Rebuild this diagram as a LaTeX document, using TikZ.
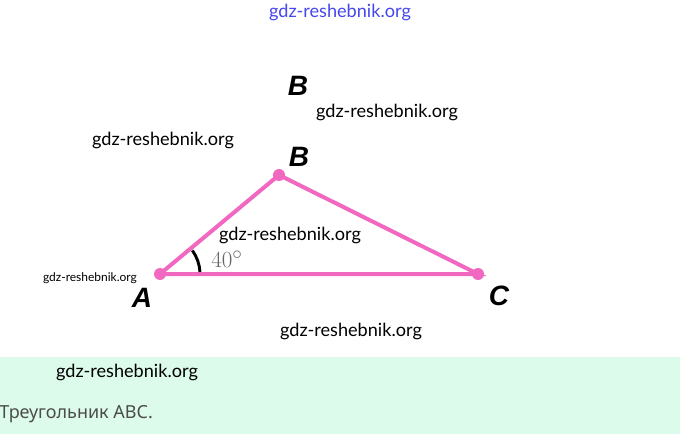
\documentclass[tikz,border=0pt]{standalone}
\usepackage{fontspec}
\newfontfamily\wmfont{Lato}
\newfontfamily\ptfont{Liberation Sans}
\newfontfamily\capfont{Noto Sans}
\usepackage{tikz}
\definecolor{trpink}{RGB}{240,104,192}
\definecolor{bandgreen}{RGB}{221,251,234}
\definecolor{wmblue}{RGB}{70,70,235}
\tikzset{
  wmark/.style={inner sep=0pt, font=\wmfont\fontsize{13.6}{14}\selectfont},
  ptlabel/.style={inner sep=0pt, font=\ptfont\bfseries\itshape\fontsize{21}{22}\selectfont},
  side/.style={trpink, line width=3pt},
  vdot/.style={circle, fill=trpink, inner sep=0pt, minimum size=9pt}
}
\begin{document}
\begin{tikzpicture}[x=0.75pt,y=-0.75pt]
\useasboundingbox (0,0) rectangle (680,434);
\fill[bandgreen] (0,357) rectangle (680,434);

\node[vdot] (A) at (160,274){};
\node[vdot] (B) at (279,175){};
\node[vdot] (C) at (478,274){};
\draw[side] (A.center) -- (B.center) -- (C.center) -- (A.center);
\draw[line width=2.2pt] (A.center) ++(-3:40) arc (-3:-36:40);

\node[ptlabel] (lA) at (142,298){A};
\node[ptlabel] (lB) at (299,157){B};
\node[ptlabel] (lC) at (499,296){C};
\node[ptlabel] (lB2) at (298,86){B};
\node[inner sep=0pt, text=black!60, font=\fontsize{19}{19}\selectfont] (ang) at (227,259){$40^\circ$};

\node[wmark, text=wmblue] (w0) at (340,12){gdz-reshebnik.org};
\node[wmark] (w1) at (387,112){gdz-reshebnik.org};
\node[wmark] (w2) at (163,140){gdz-reshebnik.org};
\node[wmark] (w3) at (290,235){gdz-reshebnik.org};
\node[wmark, font=\wmfont\fontsize{9}{10}\selectfont] (w4) at (90,278){gdz-reshebnik.org};
\node[wmark] (w5) at (351,331){gdz-reshebnik.org};
\node[wmark] (w6) at (127,372){gdz-reshebnik.org};

\node[inner sep=0pt, anchor=west, text=black!70, font=\capfont\fontsize{13.5}{14}\selectfont] (cap) at (-1,414){Треугольник ABC.};
\end{tikzpicture}
\end{document}
